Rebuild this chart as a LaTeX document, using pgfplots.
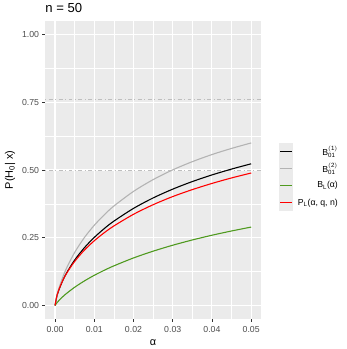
\documentclass[border=0pt]{standalone}
\usepackage{fontspec}
\setmainfont{Liberation Sans}
\setsansfont{Liberation Sans}
\usepackage{pgfplots}
\pgfplotsset{compat=1.18}

\definecolor{panelbg}{HTML}{EBEBEB}
\definecolor{keybg}{HTML}{EBEBEB}
\definecolor{ticktxt}{HTML}{4D4D4D}
\definecolor{tickcol}{HTML}{333333}
\definecolor{bgray}{HTML}{B3B3B3}
\definecolor{bgreen}{HTML}{4F9A1F}
\definecolor{refline}{HTML}{BEBEBE}

\begin{document}
\begin{tikzpicture}
\begin{axis}[
    scale only axis,
    width=217.6pt,
    height=300.5pt,
    xmin=-0.0025, xmax=0.0525,
    ymin=-0.05, ymax=1.05,
    axis background/.style={fill=panelbg},
    axis line style={draw=none},
    xtick={0,0.01,0.02,0.03,0.04,0.05},
    ytick={0,0.25,0.5,0.75,1},
    minor x tick num=1,
    minor y tick num=1,
    xmajorgrids, ymajorgrids, xminorgrids, yminorgrids,
    major grid style={white, line width=1.07pt},
    minor grid style={white, line width=0.53pt},
    tick align=outside,
    xtick pos=bottom, ytick pos=left,
    major tick length=2.75pt,
    minor tick length=0pt,
    tick style={tickcol, line width=0.6pt},
    ticklabel style={font=\fontsize{8.8}{10}\selectfont, text=ticktxt},
    /pgf/number format/assume math mode=true,
    xticklabel style={yshift=-1.5pt, /pgf/number format/.cd, fixed, fixed zerofill, precision=2},
    yticklabel style={/pgf/number format/.cd, fixed, fixed zerofill, precision=2},
    scaled x ticks=false,
    xlabel={α},
    ylabel={P(H$_{\mathrm{0}}$| x)},
    label style={font=\fontsize{11}{13}\selectfont},
    title={n = 50},
    title style={font=\fontsize{13.2}{15}\selectfont, at={(0,1)}, anchor=south west, inner xsep=0pt, yshift=-1pt},
    legend style={at={(1,0.5)}, anchor=west, xshift=17.5pt, yshift=-7pt,
        draw=none, fill=none, font=\fontsize{8.8}{10}\selectfont,
        row sep=0pt, column sep=2.5pt, inner sep=0pt},
    legend cell align=right,
    legend image code/.code={
        \fill[fill=keybg, draw=none] (0pt,-8.64pt) rectangle (15pt,8.64pt);
        \draw[#1, line width=1.1pt] (1.5pt,0pt) -- (13.5pt,0pt);
    },
]

% reference lines
\addplot[refline, line width=0.8pt, dash pattern=on 1pt off 2.5pt on 4pt off 2.5pt, forget plot]
    coordinates {(-0.0025,0.5) (0.0525,0.5)};
\addplot[refline, line width=0.8pt, dash pattern=on 1pt off 2.5pt on 4pt off 2.5pt, forget plot]
    coordinates {(-0.0025,0.762) (0.0525,0.762)};

% B01 (1)
\addplot[black, line width=1.1pt, smooth] coordinates {
    (0,0) (0.0005,0.0357) (0.001,0.0580) (0.002,0.0930) (0.003,0.1214)
    (0.005,0.1676) (0.0075,0.2134) (0.01,0.2511) (0.0125,0.2832) (0.015,0.3113)
    (0.02,0.3583) (0.025,0.3969) (0.03,0.4294) (0.035,0.4574) (0.04,0.4819)
    (0.045,0.5035) (0.05,0.5230)
};

% B01 (2)
\addplot[bgray, line width=1.1pt, smooth] coordinates {
    (0,0) (0.0005,0.0380) (0.001,0.0639) (0.002,0.1055) (0.003,0.1397)
    (0.005,0.1957) (0.0075,0.2510) (0.01,0.2960) (0.0125,0.3340) (0.015,0.3670)
    (0.02,0.4210) (0.025,0.4645) (0.03,0.5005) (0.035,0.5309) (0.04,0.5571)
    (0.045,0.5798) (0.05,0.6000)
};

% B_L
\addplot[bgreen, line width=1.1pt, smooth] coordinates {
    (0,0) (0.0005,0.0102) (0.001,0.0184) (0.002,0.0327) (0.003,0.0452)
    (0.005,0.0672) (0.0075,0.0907) (0.01,0.1113) (0.0125,0.1296) (0.015,0.1462)
    (0.02,0.1754) (0.025,0.2004) (0.03,0.2224) (0.035,0.2418) (0.04,0.2593)
    (0.045,0.2750) (0.05,0.2894)
};

% P_L
\addplot[red, line width=1.1pt, smooth] coordinates {
    (0,0) (0.0005,0.0379) (0.001,0.0598) (0.002,0.0933) (0.003,0.1199)
    (0.005,0.1625) (0.0075,0.2045) (0.01,0.2388) (0.0125,0.2680) (0.015,0.2935)
    (0.02,0.3365) (0.025,0.3719) (0.03,0.4020) (0.035,0.4277) (0.04,0.4505)
    (0.045,0.4708) (0.05,0.4890)
};

\legend{{$\mathrm{B}_{\mathrm{01}}^{\mathrm{(1)}}$},
        {$\mathrm{B}_{\mathrm{01}}^{\mathrm{(2)}}$},
        {B$_{\mathrm{L}}$(α)},
        {P$_{\mathrm{L}}$(α, q, n)}}
\end{axis}
\path[use as bounding box] (-45.6pt,-28.1pt) rectangle (303.4pt,320.9pt);
\end{tikzpicture}
\end{document}
